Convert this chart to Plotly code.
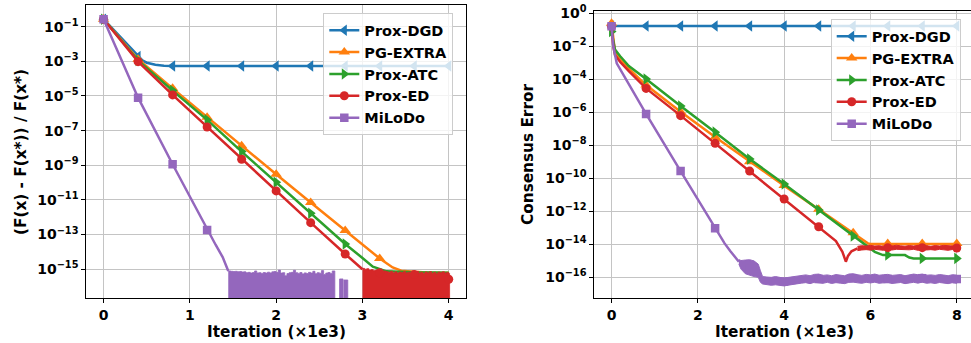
import plotly.graph_objects as go

W, H = 971, 343
FONT = "DejaVu Sans"

NAMES = ["Prox-DGD", "PG-EXTRA", "Prox-ATC", "Prox-ED", "MiLoDo"]
COLORS = ["#1f77b4", "#ff7f0e", "#2ca02c", "#d62728", "#9467bd"]
SYMBOLS = ["triangle-left", "triangle-up", "triangle-right", "circle", "square"]
MSIZE = [10, 10, 10, 9, 8.5]

# ---------------- LEFT: relative objective gap (log10 values) ----------------
MARK_X_L = [0.0, 0.4, 0.8, 1.2, 1.6, 2.0, 2.4, 2.8, 3.2, 3.6, 4.0]
DGD_L_MARK = [-0.57, -2.73, -3.27, -3.27, -3.27, -3.27, -3.27, -3.27, -3.27, -3.27, -3.27]
EXTRA_L_MARK = [-0.57, -2.88, -4.56, -6.23, -7.87, -9.52, -11.15, -12.77, -14.38, None, None]
ATC_L_MARK = [-0.57, -2.95, -4.69, -6.38, -8.21, -9.98, -11.77, -13.54, None, None, None]
ED_L_MARK = [-0.57, -3.02, -4.94, -6.79, -8.65, -10.48, -12.31, -14.12, -15.2, -15.3, -15.58]
MILODO_L_MARK = [-0.57, -5.1, -8.94, -12.73, None, None, None, None, None, None, None]

DGD_L_X = [0, 0.4, 0.45, 0.5, 0.6, 0.7, 0.8, 4.0]
DGD_L_Y = [-0.57, -2.73, -2.95, -3.08, -3.2, -3.25, -3.27, -3.27]
EXTRA_L_X = [0, 0.4, 0.8, 1.2, 1.6, 2.0, 2.4, 2.8, 3.2, 3.35, 3.45, 3.6, 3.8, 4.0]
EXTRA_L_Y = [-0.57, -2.88, -4.56, -6.23, -7.87, -9.52, -11.15, -12.77, -14.38, -14.9, -15.08, -15.15, -15.2, -15.2]
ATC_L_X = [0, 0.4, 0.8, 1.2, 1.6, 2.0, 2.4, 2.8, 3.0, 3.12, 3.28, 3.6, 4.0]
ATC_L_Y = [-0.57, -2.95, -4.69, -6.38, -8.21, -9.98, -11.77, -13.54, -14.35, -14.85, -15.12, -15.18, -15.2]
ED_L_X = [0, 0.4, 0.8, 1.2, 1.6, 2.0, 2.4, 2.8, 3.0]
ED_L_Y = [-0.57, -3.02, -4.94, -6.79, -8.65, -10.48, -12.31, -14.12, -15.0]
MILODO_L_X = [0, 0.4, 0.8, 1.2, 1.3, 1.38, 1.42, 1.445]
MILODO_L_Y = [-0.57, -5.1, -8.94, -12.73, -13.6, -14.3, -14.75, -15.1]

# noise floor (values hitting zero): upper envelope of the band
MILODO_L_BAND_X = [1.445, 1.475, 1.5, 1.525, 1.55, 1.575, 1.6, 1.625, 1.65, 1.675, 1.7, 1.725,
                   1.75, 1.775, 1.8, 1.825, 1.85, 1.875, 1.9, 1.925, 1.95, 1.975, 2.0, 2.025,
                   2.05, 2.075, 2.1, 2.125, 2.15, 2.175, 2.2, 2.225, 2.25, 2.275, 2.3, 2.325,
                   2.35, 2.375, 2.4, 2.425, 2.45, 2.475, 2.5, 2.525, 2.55, 2.575, 2.6, 2.625,
                   2.65, 2.68, 2.735, 2.775, 2.785]
MILODO_L_BAND_TOP = [-15.10, -15.12, -15.13, -15.12, -15.14, -15.13, -15.16, -15.15, -15.20, -15.18,
                     -15.22, -15.19, -15.10, -15.21, -15.20, -15.24, -15.19, -15.22, -15.17, -15.21,
                     -15.15, -15.13, -15.18, -15.05, -15.22, -15.20, -15.38, -15.25, -15.20, -15.18,
                     -15.06, -15.20, -15.24, -15.19, -15.27, -15.21, -15.25, -15.18, -15.22, -15.12,
                     -15.26, -15.20, -15.23, -15.08, -15.30, -15.22, -15.19, -15.24, -15.10, -18.0,
                     -15.56, -18.0, -15.62]
MILODO_L_BAND_END = 2.83

ED_L_BAND_X = [3.0, 3.025, 3.05, 3.075, 3.1, 3.125, 3.15, 3.175, 3.2, 3.225, 3.25, 3.275, 3.3,
               3.325, 3.35, 3.375, 3.4, 3.425, 3.45, 3.475, 3.5, 3.525, 3.55, 3.575, 3.6, 3.625,
               3.65, 3.675, 3.7, 3.725, 3.75, 3.775, 3.8, 3.825, 3.85, 3.875, 3.9, 3.925, 3.95,
               3.975, 4.0]
ED_L_BAND_TOP = [-14.95, -15.00, -14.97, -15.05, -15.02, -15.08, -15.05, -15.12, -15.09, -15.15,
                 -15.10, -15.14, -15.18, -15.12, -15.20, -15.15, -15.22, -15.16, -15.19, -15.13,
                 -15.21, -15.17, -15.24, -15.15, -15.20, -15.12, -15.22, -15.18, -15.25, -15.16,
                 -15.21, -15.14, -15.23, -15.18, -15.26, -15.17, -15.20, -15.15, -15.22, -15.19,
                 -15.24]
ED_L_BAND_END = 4.01

# ---------------- RIGHT: consensus error (log10 values) ----------------
MARK_X_R = [0.0, 0.8, 1.6, 2.4, 3.2, 4.0, 4.8, 5.6, 6.4, 7.2, 8.0]
DGD_R_MARK = [-0.77] * 11
EXTRA_R_MARK = [-0.6, -4.35, -5.96, -7.5, -8.99, -10.44, -11.88, -13.29, -13.95, -13.95, -13.95]
ATC_R_MARK = [-1.1, -3.98, -5.62, -7.2, -8.83, -10.34, -11.92, -13.49, -14.65, -14.85, -14.85]
ED_R_MARK = [-0.8, -4.55, -6.2, -7.88, -9.56, -11.25, -12.93, None, -14.2, -14.2, -14.22]
MILODO_R_MARK = [-0.78, -6.1, -9.56, -13.03, -15.5, -16.25, -16.1, -16.05, -16.1, -16.05, -16.1]

DGD_R_X = [0, 8.0]
DGD_R_Y = [-0.77, -0.77]
EXTRA_R_X = [0, 0.04, 0.08, 0.2, 0.4, 0.8, 1.6, 2.4, 3.2, 4.0, 4.8, 5.6, 5.94, 6.0, 8.0]
EXTRA_R_Y = [-0.6, -1.6, -2.35, -2.8, -3.35, -4.35, -5.96, -7.5, -8.99, -10.44, -11.88, -13.29,
             -13.94, -13.98, -13.98]
ATC_R_X = [0, 0.04, 0.08, 0.2, 0.4, 0.8, 1.6, 2.4, 3.2, 4.0, 4.8, 5.6, 5.98, 6.1, 6.29, 6.8,
           6.9, 7.0, 8.0]
ATC_R_Y = [-1.1, -1.8, -2.2, -2.6, -3.2, -3.98, -5.62, -7.2, -8.83, -10.34, -11.92, -13.49,
           -14.2, -14.45, -14.65, -14.65, -14.8, -14.85, -14.85]
ED_R_X = [0, 0.04, 0.08, 0.2, 0.4, 0.8, 1.6, 2.4, 3.2, 4.0, 4.8, 5.2, 5.35, 5.43, 5.48, 5.56, 5.7]
ED_R_Y = [-0.8, -2.0, -2.53, -2.95, -3.5, -4.55, -6.2, -7.88, -9.56, -11.25, -12.93, -13.8,
          -14.45, -15.05, -14.7, -14.42, -14.25]
MILODO_R_X = [0, 0.04, 0.12, 0.4, 0.8, 1.6, 2.4, 2.5, 2.62, 2.75, 2.85, 2.95]
MILODO_R_Y = [-0.8, -2.0, -3.03, -4.3, -6.1, -9.56, -13.03, -13.45, -13.94, -14.4, -14.7, -15.05]

ED_R_BAND_X = [5.7, 5.8, 5.9, 6.0, 6.1, 6.2, 6.3, 6.4, 6.5, 6.6, 6.7, 6.8, 6.9, 7.0, 7.1, 7.2,
               7.3, 7.4, 7.5, 7.6, 7.7, 7.8, 7.9, 8.0]
ED_R_BAND_UP = [-14.12, -14.08, -14.10, -14.06, -14.10, -14.08, -14.12, -14.07, -14.10, -14.05,
                -14.09, -14.11, -14.07, -14.10, -14.06, -14.10, -14.08, -14.12, -14.07, -14.10,
                -14.06, -14.09, -14.10, -14.08]
ED_R_BAND_LO = [-14.38, -14.34, -14.32, -14.35, -14.30, -14.33, -14.36, -14.31, -14.34, -14.30,
                -14.35, -14.32, -14.33, -14.30, -14.36, -14.31, -14.34, -14.32, -14.35, -14.30,
                -14.33, -14.36, -14.31, -14.34]

MILODO_R_BAND_X = [2.95, 3.0, 3.1, 3.2, 3.3, 3.4, 3.45, 3.5, 3.6, 3.7, 3.8, 3.9, 4.0, 4.1, 4.2,
                   4.3, 4.4, 4.5, 4.6, 4.7, 4.8, 4.9, 5.0, 5.1, 5.2, 5.3, 5.4, 5.5, 5.6, 5.7,
                   5.8, 5.9, 6.0, 6.1, 6.2, 6.3, 6.4, 6.5, 6.6, 6.7, 6.8, 6.9, 7.0, 7.1, 7.2,
                   7.3, 7.4, 7.5, 7.6, 7.7, 7.8, 7.9, 8.0]
MILODO_R_BAND_UP = [-14.92, -14.98, -14.95, -14.93, -15.0, -15.2, -15.6, -15.95,
                    -15.98, -16.0, -15.95, -16.02, -16.05, -16.0, -15.97, -15.9, -15.88, -15.85,
                    -15.9, -15.82, -15.8, -15.88, -15.85, -15.9, -15.83, -15.86, -15.9, -15.8,
                    -15.78, -15.84, -15.88, -15.82, -15.85, -15.8, -15.87, -15.84, -15.82, -15.88,
                    -15.85, -15.83, -15.9, -15.86, -15.8, -15.84, -15.8, -15.87, -15.85, -15.88,
                    -15.83, -15.86, -15.9, -15.84, -15.87]
MILODO_R_BAND_LO = [-15.2, -15.5, -15.78, -15.88, -15.95, -16.0, -16.3, -16.4,
                    -16.42, -16.48, -16.45, -16.5, -16.52, -16.47, -16.44, -16.38, -16.35, -16.32,
                    -16.38, -16.3, -16.33, -16.36, -16.3, -16.37, -16.32, -16.35, -16.38, -16.3,
                    -16.28, -16.33, -16.36, -16.3, -16.34, -16.29, -16.36, -16.32, -16.3, -16.37,
                    -16.33, -16.31, -16.38, -16.34, -16.3, -16.35, -16.29, -16.36, -16.33, -16.37,
                    -16.31, -16.35, -16.38, -16.32, -16.36]

Y_TICKS_L = [-1, -3, -5, -7, -9, -11, -13, -15]
Y_TICKS_R = [0, -2, -4, -6, -8, -10, -12, -14, -16]
X_TICKS_L = [0, 1, 2, 3, 4]
X_TICKS_R = [0, 2, 4, 6, 8]
BOTTOM = -19.0


def P(v):
    return [None if a is None else 10 ** a for a in v]


def tick_text(e):
    return "10<sup>" + ("\u2212" + str(-e) if e < 0 else str(e)) + "</sup>"


fig = go.Figure()


def line(x, y, i, ax):
    fig.add_trace(go.Scatter(x=x, y=P(y), mode="lines", xaxis="x" + ax, yaxis="y" + ax,
                             line=dict(color=COLORS[i], width=2.5), showlegend=False,
                             hoverinfo="skip"))


def markers(mx, my, i, ax):
    xs = [a for a, b in zip(mx, my) if b is not None]
    ys = [b for b in my if b is not None]
    fig.add_trace(go.Scatter(x=xs, y=P(ys), mode="markers", xaxis="x" + ax, yaxis="y" + ax,
                             marker=dict(color=COLORS[i], symbol=SYMBOLS[i], size=MSIZE[i],
                                         line=dict(width=0)),
                             showlegend=False, hoverinfo="skip"))


def step_band(bx, top, xend, i, ax):
    xs = list(bx) + [xend, xend, bx[0]]
    ys = list(top) + [top[-1], BOTTOM, BOTTOM]
    fig.add_trace(go.Scatter(x=xs, y=P(ys), mode="lines", xaxis="x" + ax, yaxis="y" + ax,
                             line=dict(color=COLORS[i], width=0.8, shape="hv"),
                             fill="toself", fillcolor=COLORS[i], showlegend=False,
                             hoverinfo="skip"))


def ul_band(bx, up, lo, i, ax):
    xs = list(bx) + list(bx)[::-1]
    ys = list(up) + list(lo)[::-1]
    fig.add_trace(go.Scatter(x=xs, y=P(ys), mode="lines", xaxis="x" + ax, yaxis="y" + ax,
                             line=dict(color=COLORS[i], width=1),
                             fill="toself", fillcolor=COLORS[i], showlegend=False,
                             hoverinfo="skip"))


# left panel (axis suffix "")
line(DGD_L_X, DGD_L_Y, 0, ""); markers(MARK_X_L, DGD_L_MARK, 0, "")
line(EXTRA_L_X, EXTRA_L_Y, 1, ""); markers(MARK_X_L, EXTRA_L_MARK, 1, "")
line(ATC_L_X, ATC_L_Y, 2, ""); markers(MARK_X_L, ATC_L_MARK, 2, "")
line(ED_L_X, ED_L_Y, 3, ""); step_band(ED_L_BAND_X, ED_L_BAND_TOP, ED_L_BAND_END, 3, "")
markers(MARK_X_L, ED_L_MARK, 3, "")
line(MILODO_L_X, MILODO_L_Y, 4, "")
step_band(MILODO_L_BAND_X, MILODO_L_BAND_TOP, MILODO_L_BAND_END, 4, "")
markers(MARK_X_L, MILODO_L_MARK, 4, "")

# right panel (axis suffix "2")
line(DGD_R_X, DGD_R_Y, 0, "2"); markers(MARK_X_R, DGD_R_MARK, 0, "2")
line(EXTRA_R_X, EXTRA_R_Y, 1, "2"); markers(MARK_X_R, EXTRA_R_MARK, 1, "2")
line(ATC_R_X, ATC_R_Y, 2, "2"); markers(MARK_X_R, ATC_R_MARK, 2, "2")
line(ED_R_X, ED_R_Y, 3, "2"); ul_band(ED_R_BAND_X, ED_R_BAND_UP, ED_R_BAND_LO, 3, "2")
markers(MARK_X_R, ED_R_MARK, 3, "2")
line(MILODO_R_X, MILODO_R_Y, 4, "2")
ul_band(MILODO_R_BAND_X, MILODO_R_BAND_UP, MILODO_R_BAND_LO, 4, "2")
markers(MARK_X_R, MILODO_R_MARK, 4, "2")

# legend entries
for leg, ax in (("legend", ""), ("legend2", "2")):
    for i, n in enumerate(NAMES):
        fig.add_trace(go.Scatter(x=[None], y=[None], name=n, mode="lines+markers",
                                 xaxis="x" + ax, yaxis="y" + ax, legend=leg,
                                 line=dict(color=COLORS[i], width=2.5),
                                 marker=dict(color=COLORS[i], symbol=SYMBOLS[i], size=MSIZE[i],
                                             line=dict(width=0))))

TICKFONT = dict(family=FONT, size=14, color="black", weight="bold")
common = dict(showgrid=True, gridcolor="#c4c4c4", gridwidth=1, showline=True,
              linecolor="black", linewidth=1, ticks="outside", ticklen=4, tickwidth=1,
              tickcolor="black", tickfont=TICKFONT, zeroline=False, automargin=False)

ydom = [1 - 298 / H, 1 - 5 / H]
ydom2 = [1 - 298 / H, 1 - 11 / H]
LEGFONT = dict(family=FONT, size=14.5, color="black", weight="bold")

fig.update_layout(
    width=W, height=H, margin=dict(l=0, r=0, t=0, b=0),
    paper_bgcolor="white", plot_bgcolor="white",
    xaxis=dict(domain=[86.3 / W, 466 / W], range=[-0.2, 4.2], tickmode="array",
               tickvals=X_TICKS_L, ticktext=[str(v) for v in X_TICKS_L], mirror=True,
               anchor="y", **common),
    yaxis=dict(domain=ydom, type="log", range=[-16.66, 0.25], tickmode="array",
               tickvals=[10 ** e for e in Y_TICKS_L], ticktext=[tick_text(e) for e in Y_TICKS_L],
               mirror=True, anchor="x", **common),
    xaxis2=dict(domain=[594.3 / W, 1.0], range=[-0.4, 8.33], tickmode="array",
                tickvals=X_TICKS_R, ticktext=[str(v) for v in X_TICKS_R], mirror=True,
                anchor="y2", **common),
    yaxis2=dict(domain=ydom2, type="log", range=[-17.25, 0.14], tickmode="array",
                tickvals=[10 ** e for e in Y_TICKS_R],
                ticktext=[tick_text(e) for e in Y_TICKS_R], mirror=False, anchor="x2",
                **common),
    legend=dict(x=323.3 / W, y=1 - 13.3 / H, xanchor="left", yanchor="top",
                bgcolor="rgba(255,255,255,0.8)", bordercolor="#cccccc", borderwidth=1,
                font=LEGFONT),
    legend2=dict(x=830.7 / W, y=1 - 19.3 / H, xanchor="left", yanchor="top",
                 bgcolor="rgba(255,255,255,0.8)", bordercolor="#cccccc", borderwidth=1,
                 font=LEGFONT),
)

TITLEFONT = dict(family=FONT, size=15.3, color="black", weight="bold")
for txt, x, y, ang in (("(F(x) - F(x*)) / F(x*)", 21, 152, -90),
                       ("Iteration (\u00d71e3)", 276.2, 331.7, 0),
                       ("Consensus Error", 527.5, 154.5, -90),
                       ("Iteration (\u00d71e3)", 784.3, 331.7, 0)):
    fig.add_annotation(text=txt, x=x / W, y=1 - y / H, xref="paper", yref="paper",
                       showarrow=False, textangle=ang, font=TITLEFONT,
                       xanchor="center", yanchor="middle")

fig.write_html("out.html", config={"displayModeBar": False},
               post_script="document.body.style.margin='0';")
